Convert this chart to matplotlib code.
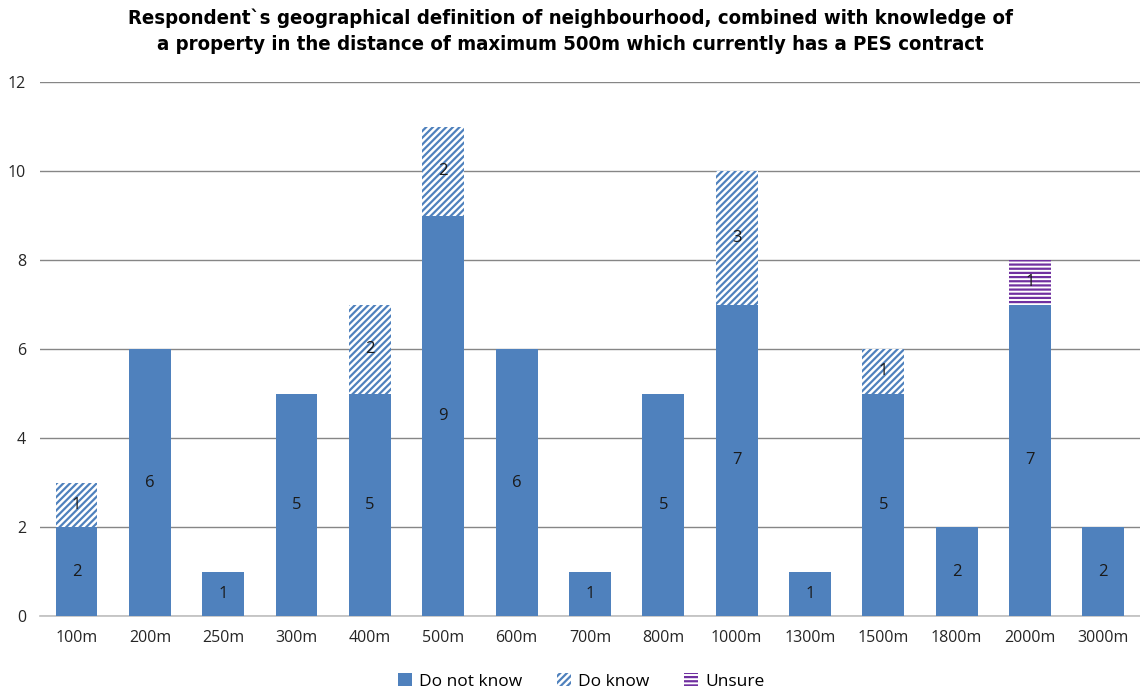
import matplotlib
matplotlib.use("Agg")
import matplotlib.pyplot as plt
import numpy as np

categories = ["100m", "200m", "250m", "300m", "400m", "500m", "600m", "700m",
              "800m", "1000m", "1300m", "1500m", "1800m", "2000m", "3000m"]
do_not_know = [2, 6, 1, 5, 5, 9, 6, 1, 5, 7, 1, 5, 2, 7, 2]
do_know = [1, 0, 0, 0, 2, 2, 0, 0, 0, 3, 0, 1, 0, 0, 0]
unsure = [0, 0, 0, 0, 0, 0, 0, 0, 0, 0, 0, 0, 0, 1, 0]
y_ticks = [0, 2, 4, 6, 8, 10, 12]

title = ("Respondent`s geographical definition of neighbourhood, combined with knowledge of\n"
         "a property in the distance of maximum 500m which currently has a PES contract")

blue = "#4F81BD"
purple = "#7030A0"
plt.rcParams["hatch.linewidth"] = 1.6
body_font = ["Open Sans", "DejaVu Sans"]

fig = plt.figure(figsize=(11.4, 6.9), dpi=100)
ax = fig.add_axes([0.035, 0.107, 0.965, 0.774])

x = np.arange(len(categories))
w = 0.57
b1 = ax.bar(x, do_not_know, w, color=blue, label="Do not know", zorder=3)
b2 = ax.bar(x, do_know, w, bottom=do_not_know, facecolor="white", edgecolor=blue,
            linewidth=0, hatch="/////", label="Do know", zorder=3)
base3 = np.array(do_not_know) + np.array(do_know)
b3 = ax.bar(x, unsure, w, bottom=base3, facecolor="white", edgecolor=purple,
            linewidth=0, hatch="----", label="Unsure", zorder=3)

for bars, vals in ((b1, do_not_know), (b2, do_know), (b3, unsure)):
    for rect, v in zip(bars, vals):
        if v:
            ax.text(rect.get_x() + rect.get_width() / 2,
                    rect.get_y() + rect.get_height() / 2, str(v),
                    ha="center", va="center", fontsize=12, color="#1a1a1a",
                    family=body_font, zorder=4)

ax.set_xlim(-0.5, len(categories) - 0.5)
ax.set_ylim(0, 12)
ax.set_yticks(y_ticks)
ax.set_xticks(x)
ax.set_xticklabels(categories)
ax.tick_params(axis="both", length=0, labelsize=11.5, colors="#262626", pad=10)
for lab in ax.get_xticklabels() + ax.get_yticklabels():
    lab.set_family(body_font)
ax.yaxis.grid(True, color="#868686", linewidth=1, zorder=0)
for s in ("top", "right", "left"):
    ax.spines[s].set_visible(False)
ax.spines["bottom"].set_color("#BFBFBF")
ax.spines["bottom"].set_linewidth(1.2)

fig.text(0.5, 0.988, title, ha="center", va="top", fontsize=14.6, fontweight="bold",
         fontstretch="condensed", family=["DejaVu Sans Condensed", "DejaVu Sans"],
         linespacing=1.5)

fig.legend(handles=[b1, b2, b3], loc="lower center", ncol=3,
           bbox_to_anchor=(0.51, -0.022), frameon=False,
           handlelength=0.8, handleheight=0.8, columnspacing=2.0,
           handletextpad=0.4, prop={"family": body_font, "size": 12.5})

fig.savefig("out.png", dpi=100)
